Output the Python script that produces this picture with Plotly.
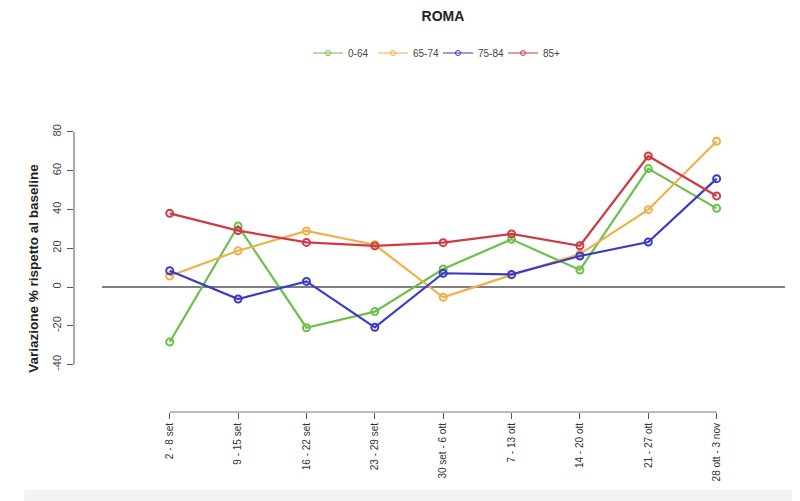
import plotly.graph_objects as go

categories = ["2 - 8 set", "9 - 15 set", "16 - 22 set", "23 - 29 set", "30 set - 6 ott",
              "7 - 13 ott", "14 - 20 ott", "21 - 27 ott", "28 ott - 3 nov"]
age_0_64 = [-28.4, 31.5, -21.0, -12.7, 9.3, 24.6, 8.8, 61.1, 40.6]
age_65_74 = [5.7, 18.7, 28.9, 21.8, -5.3, 6.2, 17.0, 39.9, 75.2]
age_75_84 = [8.4, -6.2, 2.9, -20.8, 7.1, 6.5, 16.0, 23.2, 55.9]
age_85p = [38.0, 29.1, 23.0, 21.2, 22.9, 27.4, 21.3, 67.6, 47.0]
series_names = ["0-64", "65-74", "75-84", "85+"]
y_ticks = [-40, -20, 0, 20, 40, 60, 80]

colors = ["#6cc04a", "#eeb14a", "#3b3bc8", "#cf3a45"]
xs = list(range(len(categories)))

W, H = 792, 493  # page body has an 8px margin

fig = go.Figure()
for name, vals, c in zip(series_names, [age_0_64, age_65_74, age_75_84, age_85p], colors):
    fig.add_trace(go.Scatter(
        x=xs, y=vals, name=name, mode="lines+markers", legendgroup=name, showlegend=False,
        line=dict(color=c, width=2.2),
        marker=dict(symbol="circle-open", size=7, color=c, line=dict(width=2, color=c)),
    ))
    # legend entry with thin line and small marker, as in the reference
    fig.add_trace(go.Scatter(
        x=[None], y=[None], name=name, mode="lines+markers", legendgroup=name, showlegend=True,
        line=dict(color=c, width=1),
        marker=dict(symbol="circle-open", size=5, color=c, line=dict(width=1, color=c)),
    ))

# zero reference line
fig.add_shape(type="line", xref="x", yref="y", x0=-0.99, x1=9.0, y0=0, y1=0,
              line=dict(color="#555555", width=1.3), layer="below")
# x axis line (first to last tick)
fig.add_shape(type="line", xref="x", yref="paper", x0=0, x1=len(categories) - 1, y0=0, y1=0,
              line=dict(color="#777777", width=1))
# y axis line (first to last tick)
fig.add_shape(type="line", xref="paper", yref="y", x0=0, x1=0, y0=y_ticks[0], y1=y_ticks[-1],
              line=dict(color="#555555", width=1))
# faint grey band at bottom of image
fig.add_shape(type="rect", xref="paper", yref="paper", x0=-0.07, x1=1.03, y0=-0.32, y1=-0.272,
              line=dict(width=0), fillcolor="#f3f3f3", layer="below")

fig.update_layout(
    width=W, height=H,
    margin=dict(l=66, r=15, t=117, b=89, autoexpand=False),
    paper_bgcolor="white", plot_bgcolor="white",
    title=dict(text="<b>ROMA</b>", xref="container", x=435 / W, xanchor="center",
               yref="container", y=1 - 3 / H, yanchor="top", pad=dict(t=0, b=0),
               font=dict(family="Liberation Sans, Arial", size=14, color="#222222")),
    font=dict(family="Liberation Sans, Arial", color="#333333"),
    showlegend=True,
    legend=dict(orientation="h", xref="container", x=430 / W, xanchor="center",
                yref="container", y=1 - 45 / H, yanchor="middle",
                entrywidth=20, entrywidthmode="pixels",
                font=dict(size=10, color="#444444"), itemwidth=30, bgcolor="rgba(0,0,0,0)"),
    xaxis=dict(range=[-1.4, 9.0], tickmode="array", tickvals=xs, ticktext=categories,
               tickangle=-90, ticks="outside", ticklen=6, tickcolor="#555555",
               showline=False, showgrid=False, zeroline=False, automargin=False,
               tickfont=dict(size=10, color="#333333")),
    yaxis=dict(range=[-64.5, 83.6], tickmode="array", tickvals=y_ticks,
               ticktext=[str(v) for v in y_ticks], tickangle=-90,
               ticks="outside", ticklen=6, tickcolor="#555555",
               showline=False, showgrid=False, zeroline=False, automargin=False,
               ticklabelstandoff=2,
               tickfont=dict(size=11, color="#444444"),
               title=dict(text="<b>Variazione % rispetto al baseline</b>", standoff=8,
                          font=dict(size=13.5, color="#222222"))),
)

fig.write_html("out.html")
